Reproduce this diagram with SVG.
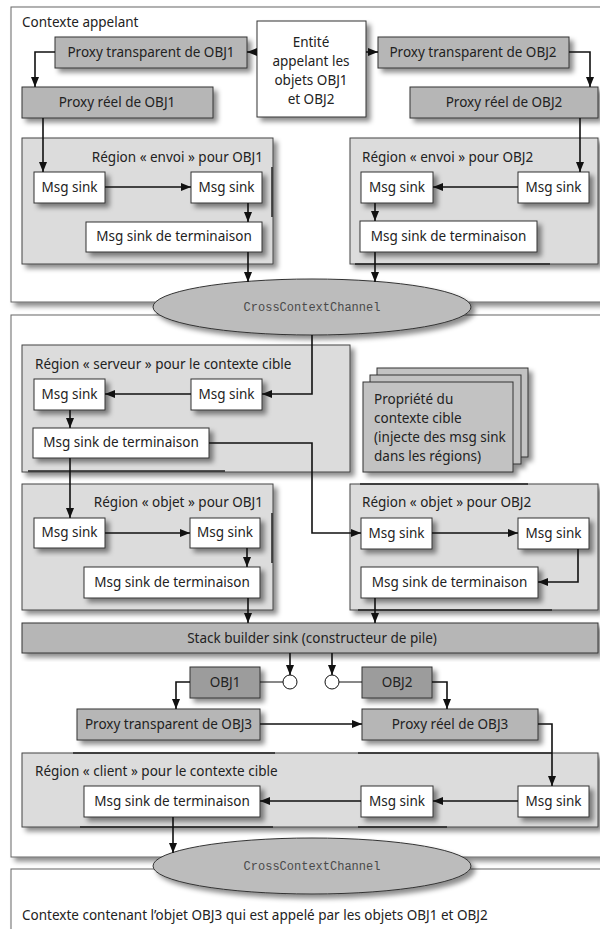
<svg xmlns="http://www.w3.org/2000/svg" width="600" height="929" viewBox="0 0 600 929">
  <defs>
    <filter id="shadow" x="-10%" y="-10%" width="130%" height="140%">
      <feDropShadow dx="4" dy="4" stdDeviation="2.5" flood-color="#000" flood-opacity="0.45"/>
    </filter>
    <marker id="arrow" markerUnits="userSpaceOnUse" markerWidth="10" markerHeight="8" refX="10" refY="4" orient="auto">
      <path d="M0,0 L10,4 L0,8 Z" fill="#111"/>
    </marker>
    <style>
      .ctx { fill:#fff; stroke:#666; stroke-width:1; filter:url(#shadow); }
      .region { fill:#dcdcdc; stroke:#444; stroke-width:1; filter:url(#shadow); }
      .white { fill:#fff; stroke:#333; stroke-width:1; filter:url(#shadow); }
      .gray { fill:#b6b6b6; stroke:#333; stroke-width:1; filter:url(#shadow); }
      .dark { fill:#9c9c9c; stroke:#333; stroke-width:1; filter:url(#shadow); }
      .prop { fill:#c2c2c2; stroke:#333; stroke-width:1; }
      .chan { fill:#bcbcbc; stroke:#333; stroke-width:1; filter:url(#shadow); }
      .t { font-family:"Noto Sans","Open Sans","DejaVu Sans",sans-serif; font-size:13.5px; fill:#222; }
      .mid { text-anchor:middle; }
      .end { text-anchor:end; }
      .mono { font-family:"Liberation Mono","DejaVu Sans Mono",monospace; font-size:12px; fill:#4a4a4a; text-anchor:middle; }
      .wire { fill:none; stroke:#111; stroke-width:1.6; }
      .thin { fill:none; stroke:#111; stroke-width:1; }
      .port { fill:#fff; stroke:#111; stroke-width:1; }
      .seam { stroke:#222; stroke-width:1.5; }
    </style>
  </defs>

  <!-- contexts -->
  <g id="ctx-caller">
    <rect class="ctx" x="11" y="7" width="600" height="295"/>
    <text class="t" x="22" y="27">Contexte appelant</text>
  </g>
  <g id="ctx-target">
    <rect class="ctx" x="11" y="315" width="600" height="542"/>
  </g>
  <g id="ctx-obj3">
    <rect class="ctx" x="11" y="869" width="600" height="80"/>
    <text class="t" x="22" y="920">Contexte contenant l’objet OBJ3 qui est appelé par les objets OBJ1 et OBJ2</text>
  </g>

  <!-- caller side -->
  <g id="entity">
    <rect class="white" x="257" y="21" width="109" height="96"/>
    <text class="t mid" x="311" y="47">Entité</text>
    <text class="t mid" x="311" y="66">appelant les</text>
    <text class="t mid" x="311" y="85">objets OBJ1</text>
    <text class="t mid" x="311" y="104">et OBJ2</text>
  </g>
  <g id="tproxy1">
    <rect class="gray" x="55" y="37" width="192" height="31"/>
    <text class="t mid" x="151" y="57">Proxy transparent de OBJ1</text>
  </g>
  <g id="tproxy2">
    <rect class="gray" x="378" y="37" width="191" height="31"/>
    <text class="t mid" x="473" y="57">Proxy transparent de OBJ2</text>
  </g>
  <g id="rproxy1">
    <rect class="gray" x="22" y="87" width="191" height="31"/>
    <text class="t mid" x="117" y="107">Proxy réel de OBJ1</text>
  </g>
  <g id="rproxy2">
    <rect class="gray" x="410" y="87" width="188" height="31"/>
    <text class="t mid" x="504" y="107">Proxy réel de OBJ2</text>
  </g>

  <g id="send1">
    <rect class="region" x="22" y="138" width="251" height="126"/>
    <line class="seam" x1="272" y1="167" x2="272" y2="217"/>
    <text class="t end" x="263" y="162">Région « envoi » pour OBJ1</text>
  </g>
  <g id="send1-a">
    <rect class="white" x="34" y="172" width="71" height="31"/>
    <text class="t mid" x="69.5" y="192">Msg sink</text>
  </g>
  <g id="send1-b">
    <rect class="white" x="191" y="172" width="71" height="31"/>
    <text class="t mid" x="226.5" y="192">Msg sink</text>
  </g>
  <g id="send1-term">
    <rect class="white" x="86" y="222" width="176" height="30"/>
    <text class="t mid" x="174" y="241">Msg sink de terminaison</text>
  </g>

  <g id="send2">
    <rect class="region" x="350" y="138" width="248" height="126"/>
    <line class="seam" x1="355" y1="264" x2="550" y2="264"/>
    <text class="t" x="362" y="162">Région « envoi » pour OBJ2</text>
  </g>
  <g id="send2-a">
    <rect class="white" x="361" y="172" width="72" height="31"/>
    <text class="t mid" x="397" y="192">Msg sink</text>
  </g>
  <g id="send2-b">
    <rect class="white" x="518" y="172" width="71" height="31"/>
    <text class="t mid" x="553.5" y="192">Msg sink</text>
  </g>
  <g id="send2-term">
    <rect class="white" x="360" y="221" width="177" height="31"/>
    <text class="t mid" x="448.5" y="241">Msg sink de terminaison</text>
  </g>

  <g id="channel1">
    <ellipse class="chan" cx="312" cy="307" rx="159" ry="28"/>
    <text class="mono" x="312" y="311">CrossContextChannel</text>
  </g>

  <!-- target context -->
  <g id="server">
    <rect class="region" x="22" y="345" width="328" height="127"/>
    <line class="seam" x1="28" y1="471" x2="225" y2="471"/>
    <text class="t" x="35" y="369">Région « serveur » pour le contexte cible</text>
  </g>
  <g id="server-a">
    <rect class="white" x="34" y="379" width="71" height="31"/>
    <text class="t mid" x="69.5" y="399">Msg sink</text>
  </g>
  <g id="server-b">
    <rect class="white" x="191" y="379" width="71" height="31"/>
    <text class="t mid" x="226.5" y="399">Msg sink</text>
  </g>
  <g id="server-term">
    <rect class="white" x="33" y="428" width="176" height="30"/>
    <text class="t mid" x="121" y="447">Msg sink de terminaison</text>
  </g>

  <g id="property">
    <g filter="url(#shadow)">
      <rect class="prop" x="377" y="368" width="151" height="89"/>
      <rect class="prop" x="370" y="375" width="151" height="89"/>
      <rect class="prop" x="363" y="382" width="150" height="90"/>
    </g>
    <text class="t" x="374" y="404">Propriété du</text>
    <text class="t" x="374" y="423">contexte cible</text>
    <text class="t" x="374" y="442">(injecte des msg sink</text>
    <text class="t" x="374" y="461">dans les régions)</text>
  </g>

  <g id="object1">
    <rect class="region" x="22" y="484" width="251" height="126"/>
    <line class="seam" x1="272" y1="513" x2="272" y2="563"/>
    <text class="t end" x="263" y="507">Région « objet » pour OBJ1</text>
  </g>
  <g id="object1-a">
    <rect class="white" x="34" y="518" width="71" height="30"/>
    <text class="t mid" x="69.5" y="537">Msg sink</text>
  </g>
  <g id="object1-b">
    <rect class="white" x="190" y="518" width="70" height="30"/>
    <text class="t mid" x="225" y="537">Msg sink</text>
  </g>
  <g id="object1-term">
    <rect class="white" x="84" y="567" width="176" height="31"/>
    <text class="t mid" x="172" y="587">Msg sink de terminaison</text>
  </g>

  <g id="object2">
    <rect class="region" x="350" y="484" width="248" height="126"/>
    <line class="seam" x1="360" y1="484" x2="528" y2="484"/>
    <line class="seam" x1="358" y1="610" x2="552" y2="610"/>
    <text class="t" x="362" y="507">Région « objet » pour OBJ2</text>
  </g>
  <g id="object2-a">
    <rect class="white" x="361" y="518" width="71" height="31"/>
    <text class="t mid" x="396.5" y="538">Msg sink</text>
  </g>
  <g id="object2-b">
    <rect class="white" x="518" y="518" width="71" height="31"/>
    <text class="t mid" x="553.5" y="538">Msg sink</text>
  </g>
  <g id="object2-term">
    <rect class="white" x="361" y="567" width="177" height="31"/>
    <text class="t mid" x="449.5" y="587">Msg sink de terminaison</text>
  </g>

  <g id="stackbuilder">
    <rect class="gray" x="22" y="623" width="576" height="30"/>
    <text class="t mid" x="312" y="643">Stack builder sink (constructeur de pile)</text>
  </g>

  <g id="obj1">
    <rect class="dark" x="190" y="667" width="70" height="31"/>
    <text class="t mid" x="225" y="687">OBJ1</text>
  </g>
  <g id="obj2">
    <rect class="dark" x="362" y="667" width="70" height="31"/>
    <text class="t mid" x="397" y="687">OBJ2</text>
  </g>
  <g id="tproxy3">
    <rect class="gray" x="77" y="709" width="183" height="31"/>
    <text class="t mid" x="168.5" y="729">Proxy transparent de OBJ3</text>
  </g>
  <g id="rproxy3">
    <rect class="gray" x="362" y="709" width="176" height="31"/>
    <text class="t mid" x="450" y="729">Proxy réel de OBJ3</text>
  </g>

  <g id="client">
    <rect class="region" x="22" y="753" width="576" height="74"/>
    <line class="seam" x1="73" y1="753" x2="275" y2="753"/>
    <line class="seam" x1="358" y1="753" x2="552" y2="753"/>
    <line class="seam" x1="80" y1="827" x2="273" y2="827"/>
    <line class="seam" x1="358" y1="827" x2="447" y2="827"/>
    <text class="t" x="35" y="776">Région « client » pour le contexte cible</text>
  </g>
  <g id="client-term">
    <rect class="white" x="84" y="786" width="176" height="31"/>
    <text class="t mid" x="172" y="806">Msg sink de terminaison</text>
  </g>
  <g id="client-a">
    <rect class="white" x="361" y="786" width="72" height="31"/>
    <text class="t mid" x="397" y="806">Msg sink</text>
  </g>
  <g id="client-b">
    <rect class="white" x="518" y="786" width="71" height="31"/>
    <text class="t mid" x="553.5" y="806">Msg sink</text>
  </g>

  <g id="channel2">
    <ellipse class="chan" cx="312" cy="866" rx="159" ry="28"/>
    <text class="mono" x="312" y="870">CrossContextChannel</text>
  </g>

  <!-- connectors -->
  <g id="connectors">
    <path class="wire" d="M257,52 H247" marker-end="url(#arrow)"/>
    <path class="wire" d="M366,52 H378" marker-end="url(#arrow)"/>
    <path class="wire" d="M55,52 H35 V87" marker-end="url(#arrow)"/>
    <path class="wire" d="M569,52 H590 V87" marker-end="url(#arrow)"/>
    <path class="wire" d="M43,118 V172" marker-end="url(#arrow)"/>
    <path class="wire" d="M580,118 V172" marker-end="url(#arrow)"/>
    <path class="wire" d="M105,187 H191" marker-end="url(#arrow)"/>
    <path class="wire" d="M248,203 V222" marker-end="url(#arrow)"/>
    <path class="wire" d="M248,252 V282" marker-end="url(#arrow)"/>
    <path class="wire" d="M518,187 H433" marker-end="url(#arrow)"/>
    <path class="wire" d="M375,203 V221" marker-end="url(#arrow)"/>
    <path class="wire" d="M375,252 V282" marker-end="url(#arrow)"/>
    <path class="wire" d="M312,335 V394 H262" marker-end="url(#arrow)"/>
    <path class="wire" d="M191,394 H105" marker-end="url(#arrow)"/>
    <path class="wire" d="M70,410 V428" marker-end="url(#arrow)"/>
    <path class="wire" d="M209,443 H312 V533 H361" marker-end="url(#arrow)"/>
    <path class="wire" d="M70,458 V518" marker-end="url(#arrow)"/>
    <path class="wire" d="M105,533 H190" marker-end="url(#arrow)"/>
    <path class="wire" d="M247,548 V567" marker-end="url(#arrow)"/>
    <path class="wire" d="M248,598 V623" marker-end="url(#arrow)"/>
    <path class="wire" d="M432,533 H518" marker-end="url(#arrow)"/>
    <path class="wire" d="M578,549 V582 H538" marker-end="url(#arrow)"/>
    <path class="wire" d="M375,598 V623" marker-end="url(#arrow)"/>
    <path class="wire" d="M290,653 V675" marker-end="url(#arrow)"/>
    <path class="wire" d="M332,653 V675" marker-end="url(#arrow)"/>
    <path class="thin" d="M260,682 H283"/>
    <path class="thin" d="M339,682 H362"/>
    <circle class="port" cx="290" cy="682" r="7"/>
    <circle class="port" cx="332" cy="682" r="7"/>
    <path class="wire" d="M190,682 H176 V709" marker-end="url(#arrow)"/>
    <path class="wire" d="M432,682 H447 V709" marker-end="url(#arrow)"/>
    <path class="wire" d="M260,724 H362" marker-end="url(#arrow)"/>
    <path class="wire" d="M538,724 H552 V786" marker-end="url(#arrow)"/>
    <path class="wire" d="M518,801 H433" marker-end="url(#arrow)"/>
    <path class="wire" d="M361,801 H260" marker-end="url(#arrow)"/>
    <path class="wire" d="M173,817 V853" marker-end="url(#arrow)"/>
  </g>
</svg>
